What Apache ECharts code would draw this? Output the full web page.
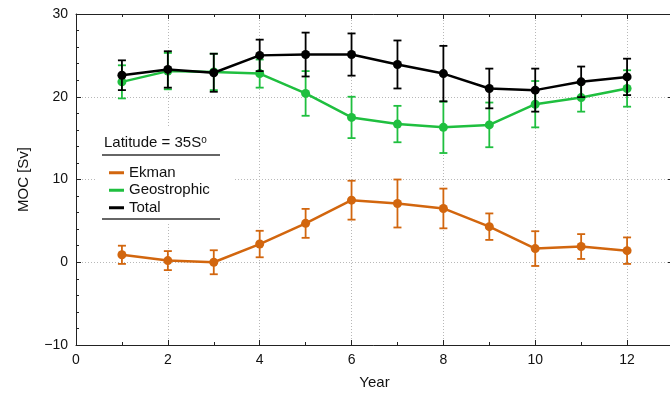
<!DOCTYPE html>
<html>
<head>
<meta charset="utf-8">
<script src="https://cdn.jsdelivr.net/npm/echarts@6/dist/echarts.min.js"></script>
<style>
html,body{margin:0;padding:0;background:#fff;}
#chart{width:670px;height:394px;}
</style>
</head>
<body>
<div id="chart"></div>
<script>
var years = [1,2,3,4,5,6,7,8,9,10,11,12];
var ekman = [0.9,0.2,0.0,2.2,4.7,7.5,7.1,6.5,4.3,1.65,1.9,1.4];
var ekmanErr = [1.1,1.15,1.45,1.6,1.75,2.35,2.9,2.4,1.6,2.1,1.5,1.6];
var geo = [21.8,23.1,23.0,22.8,20.4,17.5,16.7,16.3,16.6,19.1,19.9,21.0];
var geoErr = [2.0,2.2,2.2,1.7,2.7,2.5,2.2,3.1,2.7,2.8,1.7,2.2];
var total = [22.6,23.3,22.9,25.0,25.1,25.1,23.9,22.8,21.0,20.8,21.8,22.4];
var totalErr = [1.8,2.2,2.3,1.9,2.65,2.55,2.9,3.35,2.4,2.6,1.85,2.2];
var seriesNames = ['Ekman','Geostrophic','Total'];
var colors = ['#d2660e','#1fbf3f','#000000'];
var legendTitle = 'Latitude = 35S';
var xName = 'Year';
var yName = 'MOC [Sv]';

function pts(v){ return years.map(function(x,i){ return [x, v[i]]; }); }
function errs(v,e){ return years.map(function(x,i){ return [x, v[i]-e[i], v[i]+e[i]]; }); }
function errRender(color){
  return function(params, api){
    var x = api.value(0), lo = api.value(1), hi = api.value(2);
    var p1 = api.coord([x, lo]), p2 = api.coord([x, hi]);
    var w = 4;
    var st = {stroke: color, lineWidth: 1.8};
    return {type:'group', children:[
      {type:'line', shape:{x1:p1[0],y1:p1[1],x2:p2[0],y2:p2[1]}, style:st},
      {type:'line', shape:{x1:p1[0]-w,y1:p1[1],x2:p1[0]+w,y2:p1[1]}, style:st},
      {type:'line', shape:{x1:p2[0]-w,y1:p2[1],x2:p2[0]+w,y2:p2[1]}, style:st}
    ]};
  };
}
var FONT = "'Liberation Sans', Arial, Helvetica, sans-serif";
var axisCol = '#222';
var splitStyle = {show:true, lineStyle:{color:'#b8b8b8', type:[1,2], width:1}};

function xAx(pos, labels){
  return {type:'value', position:pos, min:0, max:13, interval:2,
    axisLine:{show:true, onZero:false, lineStyle:{color:axisCol, width:1}},
    axisTick:{show:true, inside:true, length:5, lineStyle:{color:axisCol}},
    minorTick:{show:true, splitNumber:2, length:3, lineStyle:{color:axisCol}},
    axisLabel:{show:labels, margin:8, color:'#111', fontSize:14, fontFamily:FONT, showMaxLabel:false},
    splitLine: labels ? splitStyle : {show:false},
    name: labels ? xName : '', nameLocation:'middle', nameGap:30,
    nameTextStyle:{fontSize:15, color:'#111', fontFamily:FONT}};
}
function yAx(pos, labels){
  return {type:'value', position:pos, min:-10, max:30, interval:10,
    axisLine:{show:labels, onZero:false, lineStyle:{color:axisCol, width:1}},
    axisTick:{show:true, inside:true, length:5, lineStyle:{color:axisCol}},
    minorTick:{show:true, splitNumber:5, length:3, lineStyle:{color:axisCol}},
    axisLabel:{show:labels, margin:8, color:'#111', fontSize:14, fontFamily:FONT,
      formatter:function(v){ return v<0 ? '\u2212'+Math.abs(v) : String(v); }},
    splitLine: labels ? splitStyle : {show:false},
    name: labels ? yName : '', nameLocation:'middle', nameGap:45,
    nameTextStyle:{fontSize:15, color:'#111', fontFamily:FONT}};
}

var series = [];
var data = [[ekman,ekmanErr],[geo,geoErr],[total,totalErr]];
data.forEach(function(d,i){
  series.push({type:'custom', name:seriesNames[i]+' err', renderItem:errRender(colors[i]),
    data:errs(d[0],d[1]), encode:{x:0, y:[1,2]}, z:2+i*2, silent:true});
  series.push({type:'line', name:seriesNames[i], data:pts(d[0]), symbol:'circle', symbolSize:9,
    itemStyle:{color:colors[i]}, lineStyle:{color:colors[i], width:2.5}, z:3+i*2});
});

var chart = echarts.init(document.getElementById('chart'));
chart.setOption({
  animation:false,
  backgroundColor:'#fff',
  grid:{left:76, top:14, right:-3, bottom:49, containLabel:false, outerBoundsMode:'none'},
  xAxis:[xAx('bottom', true), xAx('top', false)],
  yAxis:[yAx('left', true), yAx('right', false)],
  legend:{data:seriesNames, orient:'vertical', left:104, top:159, icon:'rect',
    itemWidth:15, itemHeight:3, itemGap:0,
    textStyle:{fontSize:15, color:'#111', fontFamily:FONT, lineHeight:17.5}},
  graphic:[
    {type:'rect', shape:{x:96, y:127, width:137, height:97}, style:{fill:'#fff'}, z:1},
    {type:'text', x:104, y:143, z:3, style:{
      text:'{a|'+legendTitle+'}{s|o}', textVerticalAlign:'middle',
      rich:{a:{fontSize:15, fontFamily:FONT, fill:'#111'}, s:{fontSize:10, fontFamily:FONT, fill:'#111', verticalAlign:'top', padding:[0,0,6,0]}}}},
    {type:'line', shape:{x1:102, y1:155, x2:220, y2:155}, style:{stroke:'#333', lineWidth:1.3}, z:3},
    {type:'line', shape:{x1:102, y1:219, x2:220, y2:219}, style:{stroke:'#333', lineWidth:1.3}, z:3}
  ],
  series:series
});
</script>
</body>
</html>
